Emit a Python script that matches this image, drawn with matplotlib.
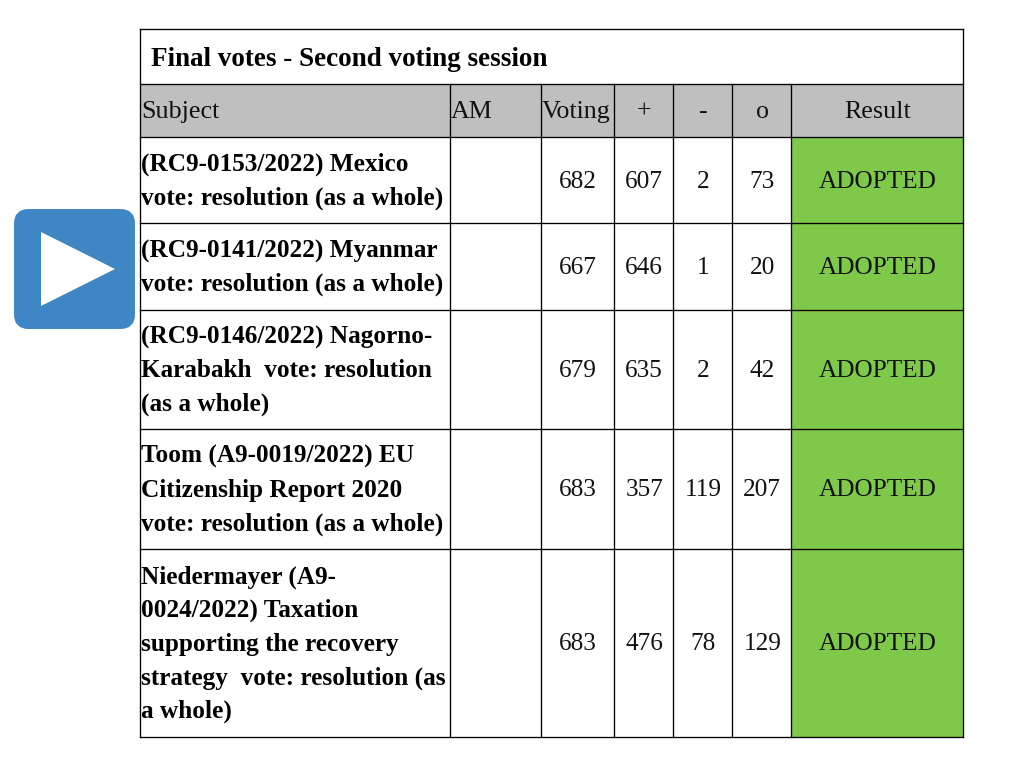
import matplotlib.pyplot as plt
from matplotlib.patches import FancyBboxPatch, Polygon, Rectangle

plt.rcParams['font.family'] = ['Liberation Serif', 'DejaVu Serif']

title = 'Final votes - Second voting session'
headers = ['Subject', 'AM', 'Voting', '+', '-', 'o', 'Result']

subjects = [
    ['(RC9-0153/2022) Mexico', 'vote: resolution (as a whole)'],
    ['(RC9-0141/2022) Myanmar', 'vote: resolution (as a whole)'],
    ['(RC9-0146/2022) Nagorno-', 'Karabakh  vote: resolution', '(as a whole)'],
    ['Toom (A9-0019/2022) EU', 'Citizenship Report 2020', 'vote: resolution (as a whole)'],
    ['Niedermayer (A9-', '0024/2022) Taxation', 'supporting the recovery',
     'strategy  vote: resolution (as', 'a whole)'],
]
voting = [682, 667, 679, 683, 683]
votes_for = [607, 646, 635, 357, 476]
votes_against = [2, 1, 2, 119, 78]
votes_abstain = [73, 20, 42, 207, 129]
results = ['ADOPTED', 'ADOPTED', 'ADOPTED', 'ADOPTED', 'ADOPTED']

# grid lines of the table, in image pixels
col_edges = [140, 450, 541, 614, 673, 732, 791, 963]
row_edges = [29, 84, 137, 223, 310, 429, 549, 737]

GREY = '#bfbfbf'
GREEN = '#7ec84a'
BLUE = '#3e86c4'
TEXT = '#111111'
FS = 18.2
HEAD_FS = 18.7
LINE_H = 33.7
BASE = 7.5  # baseline sits this far under the line centre
LEFT_PAD = 1.0
CENTER_NUDGE = 0.7

fig = plt.figure(figsize=(10.34, 7.61), dpi=100)
ax = fig.add_axes([0, 0, 1, 1])
ax.set_xlim(0, 1034)
ax.set_ylim(761, 0)
ax.axis('off')

# header and result fills
ax.add_patch(Rectangle((col_edges[0], row_edges[1]), col_edges[-1] - col_edges[0],
                       row_edges[2] - row_edges[1], color=GREY, lw=0))
ax.add_patch(Rectangle((col_edges[6], row_edges[2]), col_edges[7] - col_edges[6],
                       row_edges[-1] - row_edges[2], color=GREEN, lw=0))

# grid
for y in row_edges:
    ax.plot([col_edges[0], col_edges[-1]], [y, y], color='black', lw=0.95, solid_capstyle='projecting')
for i, x in enumerate(col_edges):
    top = row_edges[0] if i in (0, len(col_edges) - 1) else row_edges[1]
    ax.plot([x, x], [top, row_edges[-1]], color='black', lw=0.95, solid_capstyle='projecting')

# title
ax.text(151, (row_edges[0] + row_edges[1]) / 2 + BASE + 2, title, fontsize=19.5,
        fontweight='bold', color='black', va='baseline')

# header row
head_y = (row_edges[1] + row_edges[2]) / 2 + BASE
for i, label in enumerate(headers):
    if i < 3:
        ax.text(col_edges[i] + LEFT_PAD, head_y, label, fontsize=HEAD_FS, color=TEXT, va='baseline')
    else:
        ax.text((col_edges[i] + col_edges[i + 1]) / 2 + CENTER_NUDGE, head_y, label,
                fontsize=HEAD_FS, color=TEXT, ha='center', va='baseline')

# body rows
columns = [voting, votes_for, votes_against, votes_abstain, results]
for r, lines in enumerate(subjects):
    mid = (row_edges[r + 2] + row_edges[r + 3]) / 2
    for j, line in enumerate(lines):
        y = mid + (j - (len(lines) - 1) / 2) * LINE_H + BASE
        ax.text(col_edges[0] + LEFT_PAD, y, line, fontsize=FS, fontweight='bold',
                color='black', va='baseline')
    for c, values in enumerate(columns):
        ax.text((col_edges[c + 2] + col_edges[c + 3]) / 2 + CENTER_NUDGE, mid + BASE, str(values[r]),
                fontsize=FS, color=TEXT, ha='center', va='baseline')

# play button
ax.add_patch(FancyBboxPatch((21, 216), 107, 106, boxstyle='round,pad=0,rounding_size=7',
                            mutation_aspect=1, fc=BLUE, ec=BLUE, lw=10))
ax.add_patch(Polygon([(41, 232), (115, 269), (41, 306)], closed=True, fc='white', ec='none'))

fig.savefig('out.png', dpi=100)
